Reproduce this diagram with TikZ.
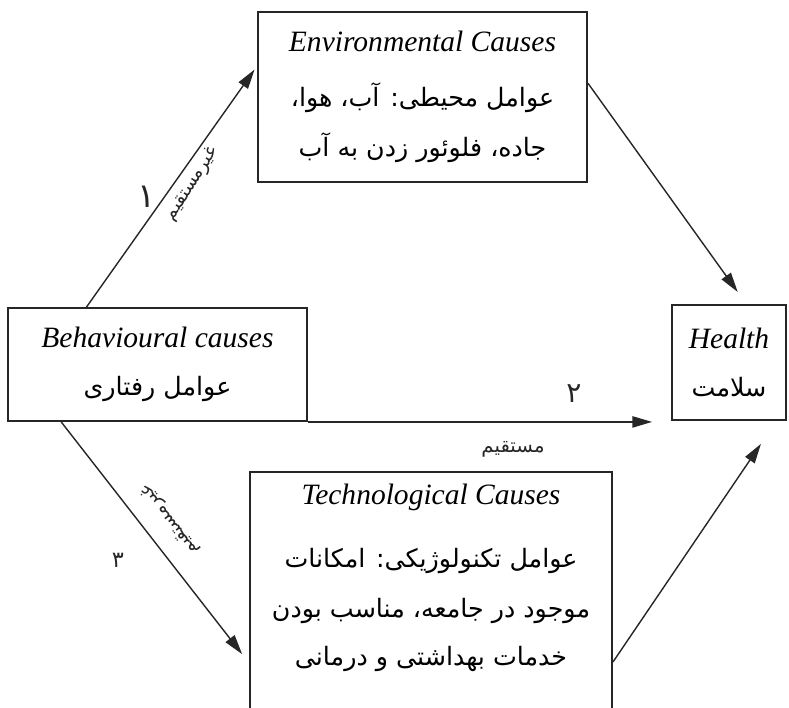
\documentclass[tikz,border=0pt]{standalone}
\usepackage{fontspec}
\setmainfont{Liberation Serif}
\newfontfamily\farsi[Script=Arabic]{DejaVu Sans}
\TeXXeTstate=1
\usetikzlibrary{arrows.meta,calc}

% texto persa
\newcommand{\fa}[1]{{\farsi\fontsize{18}{34}\selectfont\beginR#1\endR}}
\newcommand{\fanum}[2]{{\farsi\fontsize{#1}{#1}\selectfont\beginR#2\endR}}

\tikzset{
  caja/.style={draw=tinta, line width=1.3pt, align=center, inner sep=0pt,
    font=\fontsize{21}{34}\selectfont},
  flecha/.style={draw=tinta, line width=1pt, -{Triangle[length=14pt,width=8pt]}},
  mano/.style={text=tinta, inner sep=0pt}
}

\begin{document}
\begin{tikzpicture}[x=0.025cm, y=-0.025cm]
  %colores
  \colorlet{tinta}{black!85}

  % marco
  \clip (0,0) rectangle (789,708);

  % Cajas
  \node[caja, minimum width=8.225cm, minimum height=4.25cm] (env) at (422.5,97)
    {{\itshape Environmental Causes}\\[5pt]\fa{عوامل محیطی: آب، هوا،}\\[1.6pt]\fa{جاده، فلوئور زدن به آب}};
  \node[caja, minimum width=7.475cm, minimum height=2.825cm] (beh) at (157.5,364.5)
    {{\itshape Behavioural causes}\\\fa{عوامل رفتاری}};
  \node[caja, minimum width=2.85cm, minimum height=2.875cm] (health) at (729,362.5)
    {{\itshape Health}\\\fa{سلامت}};
  \node[caja, minimum width=9.05cm, minimum height=6.725cm, anchor=north] (tech) at (431,471) {};
  \node[caja, draw=none, anchor=north] (techtxt) at ([yshift=-8.5pt]tech.north)
    {{\itshape Technological Causes}\\[11pt]\fa{عوامل تکنولوژیکی: امکانات}\\[1.6pt]\fa{موجود در جامعه، مناسب بودن}\\\fa{خدمات بهداشتی و درمانی}};

  % Flechas
  \draw[flecha, shorten >=3pt] ($(beh.north west)!0.264!(beh.north east)$) -- ($(env.north west)!0.32!(env.south west)$);
  \draw[flecha, shorten >=10.6pt] ($(env.north east)!0.42!(env.south east)$) -- ($(health.north west)!0.65!(health.north east)$);
  \draw[flecha, shorten >=8pt] ($(beh.south west)!0.18!(beh.south east)$) -- ($(tech.north west)+(0,192)$);
  \draw[flecha, shorten >=19.7pt] ($(tech.north east)+(0,191)$) -- ($(health.south west)!0.91!(health.south east)$);
  \draw[flecha, shorten >=13.5pt] (beh.south east) -- (beh.south east -| health.west);

  % Rotulos a mano
  \node[mano] (n1) at (147,197) {\fanum{24}{۱}};
  \node[mano, rotate=57] (ind1) at (192,184) {\fanum{13}{غیرمستقیم}};
  \node[mano] (n2) at (574,394) {\fanum{20}{۲}};
  \node[mano] (dir) at (513,449) {\fanum{14}{مستقیم}};
  \node[mano] (n3) at (118,560) {\fanum{16}{۳}};
  \node[mano, rotate=127] (ind2) at (170,520) {\fanum{13}{غیرمستقیم}};
\end{tikzpicture}
\end{document}
